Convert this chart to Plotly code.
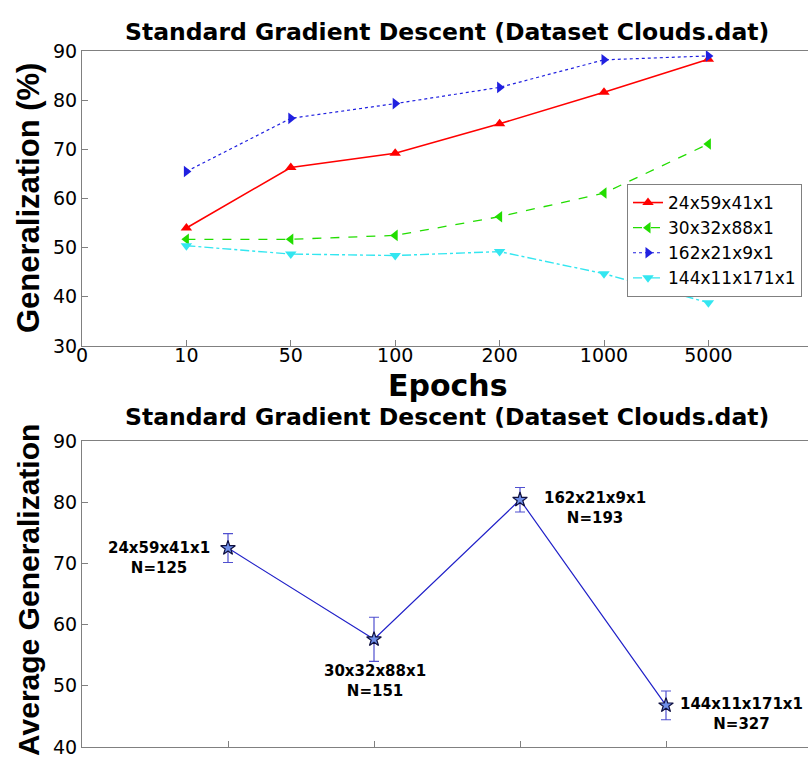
import plotly.graph_objects as go

W, H = 808, 762

# ---- data: top chart ----
epoch_labels = ["10", "50", "100", "200", "1000", "5000"]
names = ["24x59x41x1", "30x32x88x1", "162x21x9x1", "144x11x171x1"]
gen_24x59x41x1 = [54.0, 66.3, 69.2, 75.2, 81.6, 88.3]
gen_30x32x88x1 = [51.7, 51.7, 52.5, 56.3, 61.1, 71.1]
gen_162x21x9x1 = [65.5, 76.3, 79.3, 82.6, 88.2, 89.0]
gen_144x11x171x1 = [50.4, 48.7, 48.4, 49.2, 44.7, 38.8]

# ---- data: bottom chart ----
avg_gen = [72.5, 57.6, 80.4, 46.8]
avg_err = [2.35, 3.6, 2.0, 2.35]
sizes_n = [125, 151, 193, 327]

def px_x(p):
    return p / W

def px_y(p):
    return 1 - p / H

fig = go.Figure()

xpos = list(range(1, len(epoch_labels) + 1))
styles = [
    (gen_24x59x41x1, "#ff0000", "solid", "triangle-up", 1.6),
    (gen_30x32x88x1, "#22dd00", "dash", "triangle-left", 1.3),
    (gen_162x21x9x1, "#2020e0", "dot", "triangle-right", 1.2),
    (gen_144x11x171x1, "#33e6f0", "dashdot", "triangle-down", 1.4),
]
for name, (vals, col, dash, sym, lw) in zip(names, styles):
    fig.add_trace(go.Scatter(
        x=xpos, y=vals, name=name, mode="lines+markers",
        line=dict(color=col, width=lw, dash=dash),
        marker=dict(symbol=sym, size=10, color=col),
        xaxis="x", yaxis="y",
    ))

bx = list(range(1, len(avg_gen) + 1))
fig.add_trace(go.Scatter(
    x=bx, y=avg_gen, mode="lines+markers", showlegend=False,
    line=dict(color="#2020c8", width=1.2),
    marker=dict(symbol="star", size=11, color="#6f8fe8",
                line=dict(color="#101040", width=1.2)),
    error_y=dict(type="data", array=avg_err, visible=True,
                 color="#5050d0", thickness=1.2, width=5),
    xaxis="x2", yaxis="y2",
))

axis_common = dict(
    showline=True, linecolor="#808080", linewidth=1,
    ticks="inside", ticklen=6, tickcolor="#808080",
    showgrid=False, zeroline=False, automargin=False,
    tickfont=dict(family="DejaVu Sans", size=19, color="#000"),
)

fig.update_layout(
    width=W, height=H,
    margin=dict(l=0, r=0, t=0, b=0),
    paper_bgcolor="white", plot_bgcolor="white",
    xaxis=dict(domain=[px_x(82), 1.0], range=[0, 726 / 104.4],
               tickvals=list(range(0, 7)),
               ticktext=["0"] + epoch_labels, ticklabelstandoff=-8,
               mirror=True, anchor="y", **axis_common),
    yaxis=dict(domain=[px_y(346), px_y(51)], range=[30, 90],
               tickvals=[30, 40, 50, 60, 70, 80, 90], anchor="x",
               **axis_common),
    xaxis2=dict(domain=[px_x(82), 1.0], range=[0, 726 / 146.0],
                tickvals=[0, 1, 2, 3, 4], showticklabels=False,
                mirror=True, anchor="y2", **axis_common),
    yaxis2=dict(domain=[px_y(747), px_y(441)], range=[40, 90],
                tickvals=[40, 50, 60, 70, 80, 90], anchor="x2",
                **axis_common),
    legend=dict(x=px_x(627), y=px_y(184), xanchor="left", yanchor="top",
                bordercolor="#808080", borderwidth=1, bgcolor="white",
                font=dict(family="DejaVu Sans", size=17, color="#000"),
                itemwidth=30, tracegroupgap=0),
    showlegend=True,
)

title_txt = "Standard Gradient Descent (Dataset Clouds.dat)"
annos = [
    dict(text="<b>" + title_txt + "</b>", x=px_x(447), y=px_y(32),
         font=dict(family="DejaVu Sans", size=23.5, color="#000")),
    dict(text="<b>" + title_txt + "</b>", x=px_x(447), y=px_y(417),
         font=dict(family="DejaVu Sans", size=23.5, color="#000")),
    dict(text="<b>Epochs</b>", x=px_x(448), y=px_y(386),
         font=dict(family="DejaVu Sans", size=30, color="#000")),
    dict(text="<b>Generalization (%)</b>", x=px_x(28), y=px_y(198),
         textangle=-90,
         font=dict(family="Liberation Sans, Arial", size=31, color="#000")),
    dict(text="<b>Average Generalization</b>", x=px_x(28), y=px_y(590),
         textangle=-90,
         font=dict(family="Liberation Sans, Arial", size=30, color="#000")),
]
for a in annos:
    a.update(xref="paper", yref="paper", showarrow=False,
             xanchor="center", yanchor="middle")
    fig.add_annotation(**a)

# point labels in the bottom chart
lab_y = [(549 + 567) / 2, (672 + 690) / 2, (499 + 517) / 2, (705 + 723) / 2]
lab_x = [159, 375, 595, 741]
for nm, n, lx, ly in zip(names, sizes_n, lab_x, lab_y):
    fig.add_annotation(
        text="<b>%s<br>N=%d</b>" % (nm, n),
        xref="paper", yref="paper", x=px_x(lx), y=px_y(ly),
        xanchor="center", yanchor="middle", showarrow=False,
        font=dict(family="DejaVu Sans", size=15, color="#000"),
        align="center",
    )

fig.write_html("out.html")
